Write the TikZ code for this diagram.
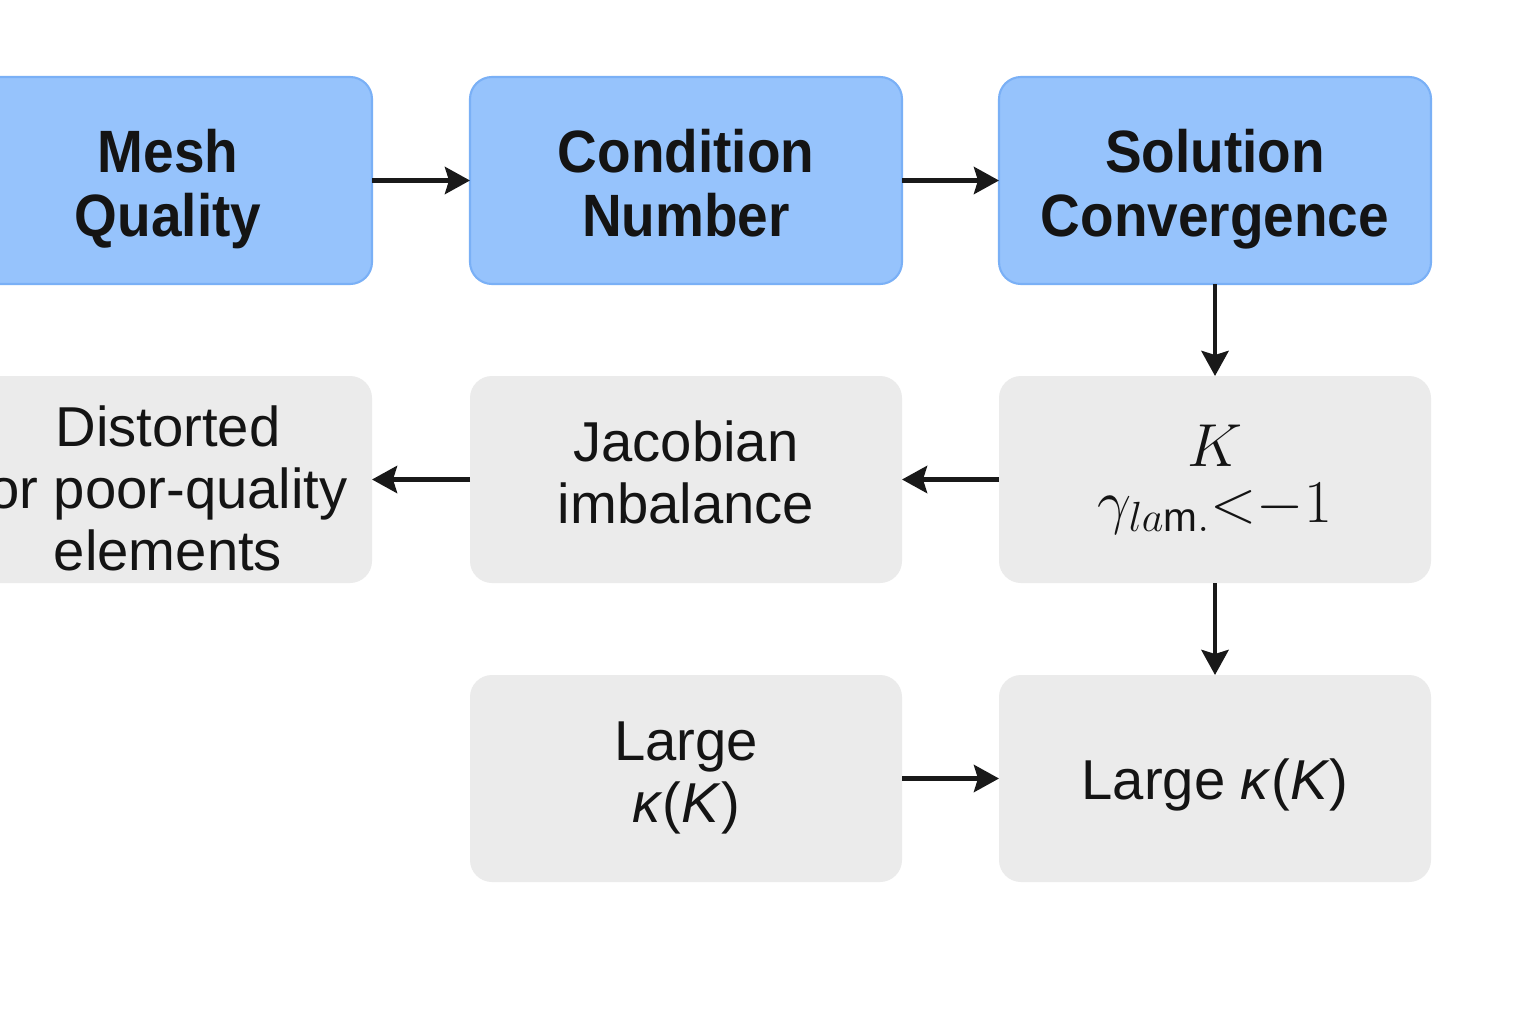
\documentclass[tikz,border=0pt]{standalone}
\usepackage{fontspec}
\setmainfont[BoldFeatures={FakeStretch=0.92}]{Liberation Sans}
\usetikzlibrary{arrows.meta}

\definecolor{bleuboite}{RGB}{150,195,252}
\definecolor{bordbleu}{RGB}{122,176,246}
\definecolor{grisboite}{RGB}{235,235,235}

\tikzset{
    boite/.style={rounded corners=0.22cm, minimum width=4.32cm, minimum height=2.07cm,
        align=center, inner sep=0pt, outer sep=0pt, text=black!92},
    lignes/.style={text height=#1, text depth=0pt},
    bleue/.style={boite, fill=bleuboite, draw=bordbleu, line width=0.6pt,
        font=\fontsize{17}{18.2}\selectfont\bfseries, lignes=31.6pt},
    grise/.style={boite, fill=grisboite, font=\fontsize{16}{17.7}\selectfont},
    fleche/.style={-{Stealth[length=0.25cm,width=0.27cm,inset=0.04cm]}, line width=1.4pt, black!90},
}

\begin{document}
\begin{tikzpicture}
        % Cadre
        \useasboundingbox (0,0) rectangle (15.36,10.24);
        \clip (0,0) rectangle (15.36,10.24);
        \fill[white] (0,0) rectangle (15.36,10.24);
        % Ligne 1 : causes
        \node[bleue, minimum width=4.08cm] (maillage) at (1.68,8.435) {Mesh\\Quality};
        \node[bleue] (conditionnement) at (6.86,8.435) {Condition\\Number};
        \node[bleue] (convergence) at (12.15,8.435) {Solution\\Convergence};
        % Ligne 2 : mécanismes
        \node[grise, lignes=51.8pt, minimum width=4.08cm] (elements) at (1.68,5.445)
            {Distorted\\or poor-quality\\elements};
        \node[grise, lignes=25pt] (jacobien) at (6.86,5.445) {Jacobian\\imbalance};
        \node[grise, font=\fontsize{16.5}{16}\selectfont] (raideur) at (12.15,5.445)
            {$K$\\$\gamma_{la\mathrm{m.}}{<}{-1}$};
        % Ligne 3 : conséquences
        \node[grise, lignes=25pt] (kappa) at (6.86,2.455) {Large\\\textit{κ}(\textit{K})};
        \node[grise, lignes=12.2pt] (grandkappa) at (12.15,2.455) {Large \textit{κ}(\textit{K})};
        % Flèches
        \draw[fleche] (maillage) -- (conditionnement);
        \draw[fleche] (conditionnement) -- (convergence);
        \draw[fleche] (convergence) -- (raideur);
        \draw[fleche] (raideur) -- (jacobien);
        \draw[fleche] (jacobien) -- (elements);
        \draw[fleche] (raideur) -- (grandkappa);
        \draw[fleche] (kappa) -- (grandkappa);
    \end{tikzpicture}
\end{document}
